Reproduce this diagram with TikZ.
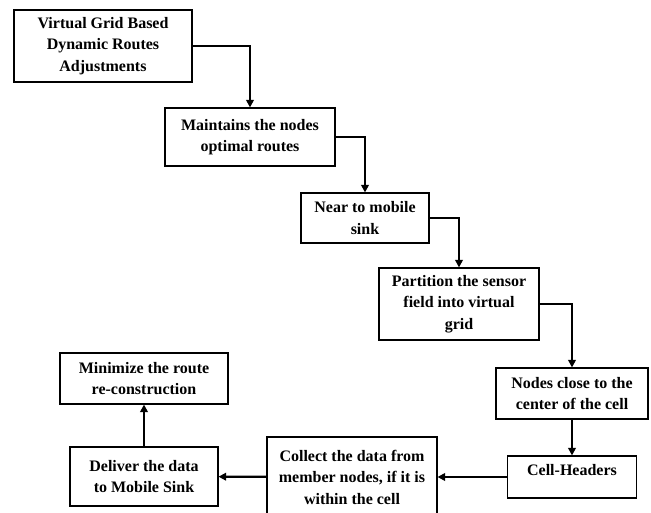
\documentclass[tikz,border=0pt]{standalone}
\usepackage{fontspec}
\setmainfont{Liberation Serif}
\usetikzlibrary{arrows.meta}

\tikzset{
  stepbox/.style={draw, line width=1.1pt, align=center, inner sep=2pt,
    font=\bfseries\fontsize{16}{21.5}\selectfont},
  flow/.style={line width=2.2pt, -{Triangle[length=7.5pt,width=7.5pt]}}
}

\begin{document}
\begin{tikzpicture}[x=1pt,y=-1pt]

  \useasboundingbox (0,0) rectangle (651,513);

  \node[stepbox, minimum width=178pt, minimum height=72pt] (virt) at (103,46)
    {Virtual Grid Based\\Dynamic Routes\\Adjustments};
  \node[stepbox, minimum width=170pt, minimum height=58pt] (maint) at (250,137)
    {Maintains the nodes\\optimal routes};
  \node[stepbox, minimum width=128pt, minimum height=50pt] (near) at (365,218)
    {Near to mobile\\sink};
  \node[stepbox, minimum width=160pt, minimum height=72pt] (part) at (459,304)
    {Partition the sensor\\field into virtual\\grid};
  \node[stepbox, minimum width=152pt, minimum height=51pt] (close) at (572,393.5)
    {Nodes close to the\\center of the cell};
  \node[stepbox, minimum width=129pt, minimum height=42pt, text depth=14pt] (head) at (572,477)
    {Cell-Headers};
  \node[stepbox, minimum width=170pt, minimum height=80pt] (coll) at (352,477)
    {Collect the data from\\member nodes, if it is\\within the cell};
  \node[stepbox, minimum width=148pt, minimum height=59pt] (deliv) at (144,476.5)
    {Deliver the data\\to Mobile Sink};
  \node[stepbox, minimum width=168pt, minimum height=51pt] (mini) at (144,378.5)
    {Minimize the route\\re-construction};

  \draw[flow] (virt.east) -| (maint.north);
  \draw[flow] (maint.east) -| (near.north);
  \draw[flow] (near.east) -| (part.north);
  \draw[flow] (part.east) -| (close.north);
  \draw[flow] (close) -- (head);
  \draw[flow] (head) -- (coll);
  \draw[flow] (coll) -- (deliv);
  \draw[flow] (deliv) -- (mini);

\end{tikzpicture}
\end{document}
